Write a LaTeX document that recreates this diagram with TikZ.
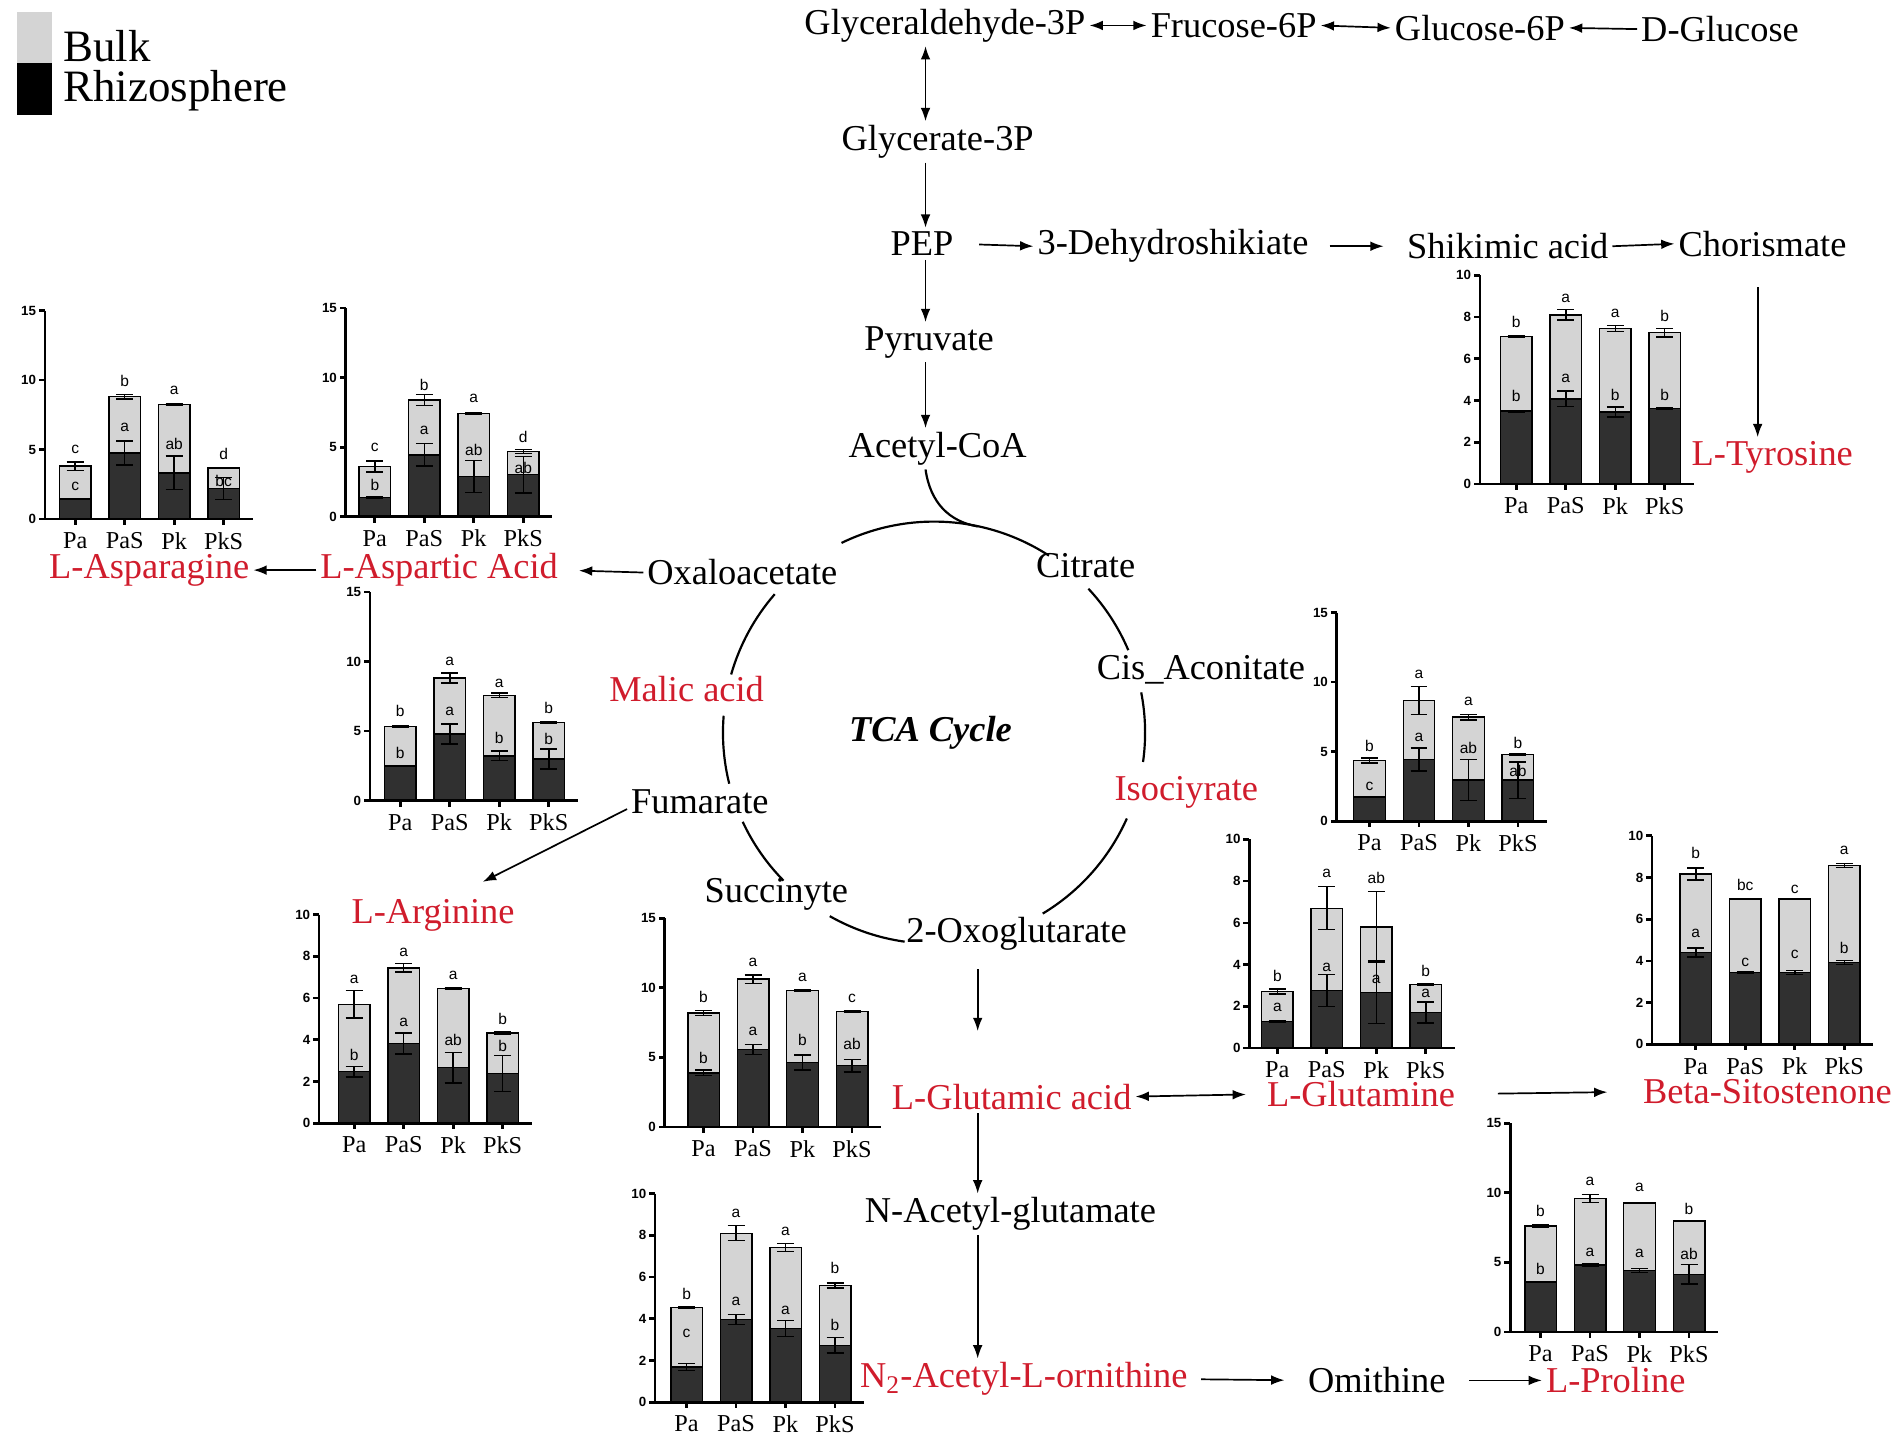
\documentclass[tikz,border=0pt]{standalone}
\usepackage{fontspec}
\setmainfont{Liberation Serif}
\setsansfont{Liberation Sans}
\usetikzlibrary{arrows.meta}
\definecolor{redlab}{RGB}{208,28,44}
\definecolor{bulkgray}{RGB}{212,212,212}
\definecolor{rhizo}{RGB}{48,48,48}
\tikzset{
 met/.style={font=\fontsize{15}{18}\selectfont, inner sep=1.5pt},
 redmet/.style={met, text=redlab},
 arr/.style={-{Latex[length=5.5pt,width=4pt]}, line width=0.7pt},
 darr/.style={{Latex[length=5.5pt,width=4pt]}-{Latex[length=5.5pt,width=4pt]}, line width=0.7pt},
 cyc/.style={line width=0.9pt},
 axisline/.style={line width=1.1pt},
 barline/.style={line width=0.6pt},
 errline/.style={line width=0.6pt},
 ticklab/.style={font=\sffamily\bfseries\fontsize{5.5}{6}\selectfont, inner sep=0.6pt},
 siglab/.style={font=\sffamily\fontsize{6.4}{7}\selectfont, inner sep=0.2pt},
 grplab/.style={font=\fontsize{10}{11}\selectfont, inner sep=0.5pt},
 legtext/.style={font=\fontsize{18.5}{20}\selectfont, inner sep=1pt},
}
% #1 name, #2 axis x, #3 zero y, #4 ymax, #5 step, #6 first centre x, #7 data
% data item: total/err/dark/err/top letter/inner letter/top letter centre/inner letter centre
\newcommand\barchart[7]{%
  \pgfmathsetmacro\bcs{172/#4}%
  \pgfmathsetmacro\bcend{#6+3*40.8+24}%
  \foreach \vT/\eT/\vD/\eD/\lT/\lD/\pT/\pD [count=\bci from 0] in {#7}{
    \pgfmathsetmacro\bcx{#6+\bci*40.8}
    \draw[barline,fill=bulkgray] (\bcx-13,#3) rectangle (\bcx+13,{#3-\vT*\bcs});
    \draw[barline,fill=rhizo] (\bcx-13,#3) rectangle (\bcx+13,{#3-\vD*\bcs});
    \draw[errline] (\bcx,{#3-(\vT-\eT)*\bcs}) -- (\bcx,{#3-(\vT+\eT)*\bcs})
       (\bcx-7,{#3-(\vT+\eT)*\bcs}) -- (\bcx+7,{#3-(\vT+\eT)*\bcs})
       (\bcx-7,{#3-(\vT-\eT)*\bcs}) -- (\bcx+7,{#3-(\vT-\eT)*\bcs});
    \draw[errline] (\bcx,{#3-(\vD-\eD)*\bcs}) -- (\bcx,{#3-(\vD+\eD)*\bcs})
       (\bcx-7,{#3-(\vD+\eD)*\bcs}) -- (\bcx+7,{#3-(\vD+\eD)*\bcs})
       (\bcx-7,{#3-(\vD-\eD)*\bcs}) -- (\bcx+7,{#3-(\vD-\eD)*\bcs});
    \node[siglab] (#1-t\bci) at (\bcx,{#3-\pT*\bcs}) {\lT};
    \node[siglab] (#1-d\bci) at (\bcx,{#3-\pD*\bcs}) {\lD};
  }
  \draw[axisline] (#2,#3-172) -- (#2,#3) -- (\bcend,#3);
  \foreach \vv in {0,#5,...,#4}{
    \draw[axisline] (#2,{#3-\vv*\bcs}) -- ++(-5,0) node[ticklab,anchor=east] (#1-y\vv) {\vv};
  }
  \foreach \gname [count=\bci from 0] in {Pa,PaS,Pk,PkS}{
    \pgfmathsetmacro\bcx{#6+\bci*40.8}
    \draw[axisline] (\bcx,#3) -- (\bcx,#3+5);
    \node[grplab] (#1-g\bci) at (\bcx,#3+18) {\gname};
  }
}
\begin{document}
\begin{tikzpicture}[x=0.5pt,y=-0.5pt]
\useasboundingbox (0,0) rectangle (1568,1186);

% legend
\fill[bulkgray] (14,10) rectangle (43,52);
\fill[black] (14,52) rectangle (43,95);
\node[legtext,anchor=west] (lbulk) at (50,38) {Bulk};
\node[legtext,anchor=west] (lrhizo) at (50,75) {Rhizosphere};

% metabolites
\node[met] (gap) at (779,21) {Glyceraldehyde-3P};
\node[met] (f6p) at (1017,21) {Frucose-6P};
\node[met] (g6p) at (1220,23) {Glucose-6P};
\node[met] (dglc) at (1418,24) {D-Glucose};
\node[met] (g3p) at (773,117) {Glycerate-3P};
\node[met] (pep) at (760,201) {PEP};
\node[met] (dhs) at (967,203) {3-Dehydroshikiate};
\node[met] (shik) at (1243,203) {Shikimic acid};
\node[met] (chor) at (1453,201) {Chorismate};
\node[redmet] (tyr) at (1461,377) {L-Tyrosine};
\node[met] (pyr) at (766,282) {Pyruvate};
\node[met] (acoa) at (773,370) {Acetyl-CoA};
\node[met] (oaa) at (612,472) {Oxaloacetate};
\node[met] (cit) at (895,466) {Citrate};
\node[met] (cis) at (990,552) {Cis\_Aconitate};
\node[redmet] (iso) at (978,653) {Isociyrate};
\node[met] (oxo) at (838,770) {2-Oxoglutarate};
\node[met] (suc) at (640,737) {Succinyte};
\node[met] (fum) at (577,661) {Fumarate};
\node[redmet] (mal) at (566,568) {Malic acid};
\node[met,font=\bfseries\itshape\fontsize{15}{18}\selectfont] (tca) at (767,604) {TCA Cycle};
\node[redmet] (asp) at (362,470) {L-Aspartic Acid};
\node[redmet] (asn) at (123,470) {L-Asparagine};
\node[redmet] (arg) at (357,755) {L-Arginine};
\node[redmet] (glu) at (834,904) {L-Glutamic acid};
\node[redmet] (gln) at (1122,902) {L-Glutamine};
\node[redmet] (beta) at (1457,900) {Beta-Sitostenone};
\node[met] (nag) at (833,1001) {N-Acetyl-glutamate};
\node[redmet] (nao) at (844,1137) {N\textsubscript{2}-Acetyl-L-ornithine};
\node[met] (orn) at (1135,1138) {Omithine};
\node[redmet] (pro) at (1332,1138) {L-Proline};

\coordinate (ax) at (763,0);
\coordinate (gx) at (806,0);
\coordinate (tx) at (1449,0);
\coordinate (cc) at (770,604);
\coordinate (argtip) at (398,727);

% arrows
\draw[darr] (gap.east) -- (f6p.west);
\draw[darr] (f6p.east) -- (g6p.west);
\draw[arr] (dglc.west) -- (g6p.east);
\draw[darr] (gap.south -| ax) -- (g3p.north -| ax);
\draw[arr] (g3p.south -| ax) -- (pep.north -| ax);
\draw[arr,shorten <=9pt] (pep.east) -- (dhs.west);
\draw[arr,shorten <=7pt,shorten >=8pt] (dhs.east) -- (shik.west);
\draw[arr] (shik.east) -- (chor.west);
\draw[arr] (chor.south -| tx) ++(0,22) -- (tyr.north -| tx);
\draw[arr] (pep.south -| ax) -- (pyr.north -| ax);
\draw[arr] (pyr.south -| ax) -- (acoa.north -| ax);
\draw[cyc] (acoa.south -| ax) .. controls (767,415) and (783,430) .. (806,434);
\draw[arr,shorten >=7pt] (oaa.west) -- (asp.east);
\draw[arr] (asp.west) -- (asn.east);
\draw[arr] ([yshift=-3pt]fum.west) -- (argtip);
\draw[arr,shorten <=6pt,shorten >=20pt] (oxo.south -| gx) -- (glu.north -| gx);
\draw[darr,shorten >=7pt] (glu.east) -- (gln.west);
\draw[arr,shorten <=16pt,shorten >=13pt] (gln.east) -- (beta.west);
\draw[arr] (glu.south -| gx) -- (nag.north -| gx);
\draw[arr] (nag.south -| gx) -- (nao.north -| gx);
\draw[arr,shorten <=4pt,shorten >=8pt] (nao.east) -- (orn.west);
\draw[arr,shorten <=8pt] (orn.east) -- (pro.west);

% TCA cycle arcs
\draw[cyc] ([shift={(244:174)}]cc) arc[start angle=244,end angle=303,radius=174];
\draw[cyc] ([shift={(221:174)}]cc) arc[start angle=221,end angle=196,radius=174];
\draw[cyc] ([shift={(184.6:174)}]cc) arc[start angle=184.6,end angle=166,radius=174];
\draw[cyc] ([shift={(155:174)}]cc) arc[start angle=155,end angle=135.5,radius=174];
\draw[cyc] ([shift={(119.6:174)}]cc) arc[start angle=119.6,end angle=98,radius=174];
\draw[cyc] ([shift={(59:174)}]cc) arc[start angle=59,end angle=24,radius=174];
\draw[cyc] ([shift={(8:174)}]cc) arc[start angle=8,end angle=-11,radius=174];
\draw[cyc] ([shift={(-23:174)}]cc) arc[start angle=-23,end angle=-43,radius=174];

% charts
\barchart{asnc}{37}{428}{15}{5}{62}{3.81/0.3/1.45/0.03/c/c/5.0/2.33, 8.81/0.17/4.76/0.85/b/a/9.95/6.57, 8.24/0.05/3.33/1.2/a/ab/9.29/5.38, 3.69/0.03/2.21/0.8/d/bc/4.67/2.76}
\barchart{aspc}{285}{426}{15}{5}{309}{3.62/0.4/1.38/0.03/c/b/5.0/2.26, 8.38/0.4/4.45/0.8/b/a/9.45/6.19, 7.43/0.05/2.9/1.15/a/ab/8.5/4.81, 4.69/0.15/3.02/1.3/d/ab/5.71/3.52}
\barchart{malc}{305}{660}{15}{5}{330}{5.34/0.05/2.5/0.03/b/b/6.42/3.46, 8.82/0.35/4.78/0.72/a/a/10.0/6.42, 7.57/0.15/3.22/0.35/a/b/8.46/4.5, 5.63/0.05/2.98/0.72/b/b/6.66/4.42}
\barchart{argc}{263}{926}{10}{2}{292}{5.7/0.65/2.47/0.25/a/b/6.88/3.26, 7.45/0.2/3.82/0.5/a/a/8.2/4.81, 6.45/0.05/2.66/0.72/a/ab/7.09/3.98, 4.33/0.08/2.39/0.86/b/b/5.02/3.69}
\barchart{succ}{548}{929}{15}{5}{580}{8.18/0.19/3.88/0.2/b/b/9.33/4.95, 10.62/0.3/5.55/0.36/a/a/11.82/6.87, 9.81/0.03/4.64/0.54/a/b/10.77/6.27, 8.3/0.03/4.4/0.44/c/ab/9.26/5.98}
\barchart{naoc}{540}{1156}{10}{2}{566}{4.54/0.03/1.69/0.18/b/c/5.18/3.32, 8.1/0.36/3.96/0.24/a/a/9.07/4.82, 7.42/0.2/3.53/0.38/a/a/8.19/4.41, 5.59/0.12/2.73/0.38/b/b/6.42/3.69}
\barchart{isoc}{1102}{677}{15}{5}{1129}{4.36/0.18/1.75/0.03/b/c/5.4/2.52, 8.68/1.0/4.44/0.82/a/a/10.55/6.04, 7.48/0.2/2.95/1.47/a/ab/8.63/5.28, 4.8/0.03/2.95/1.3/b/ab/5.64/3.6}
\barchart{glnc}{1030}{864}{10}{2}{1053}{2.7/0.12/1.27/0.03/b/a/3.46/1.95, 6.7/1.03/2.75/0.77/a/a/8.38/3.86, 5.8/1.7/2.67/1.5/ab/a/8.14/3.3, 3.05/0.03/1.71/0.5/b/a/3.7/2.63}
\barchart{betc}{1362}{861}{10}{2}{1398}{8.17/0.28/4.41/0.22/b/a/9.2/5.33, 6.97/0.02/3.45/0.02/bc/c/7.64/3.93, 6.97/0.02/3.45/0.1/c/c/7.44/4.31, 8.58/0.09/3.93/0.1/a/b/9.32/4.62}
\barchart{proc}{1245}{1098}{15}{5}{1270}{7.6/0.08/3.58/0.03/b/b/8.7/4.53, 9.59/0.3/4.81/0.1/a/a/10.8/5.75, 9.26/0.03/4.42/0.15/a/a/10.36/5.63, 7.98/0.03/4.14/0.7/b/ab/8.82/5.63}
\barchart{tyrc}{1220}{399}{10}{2}{1250}{7.06/0.05/3.49/0.03/b/b/7.78/4.24, 8.1/0.25/4.08/0.37/a/a/8.89/5.08, 7.46/0.14/3.44/0.24/a/b/8.17/4.29, 7.25/0.2/3.62/0.04/b/b/8.05/4.29}
\end{tikzpicture}
\end{document}
